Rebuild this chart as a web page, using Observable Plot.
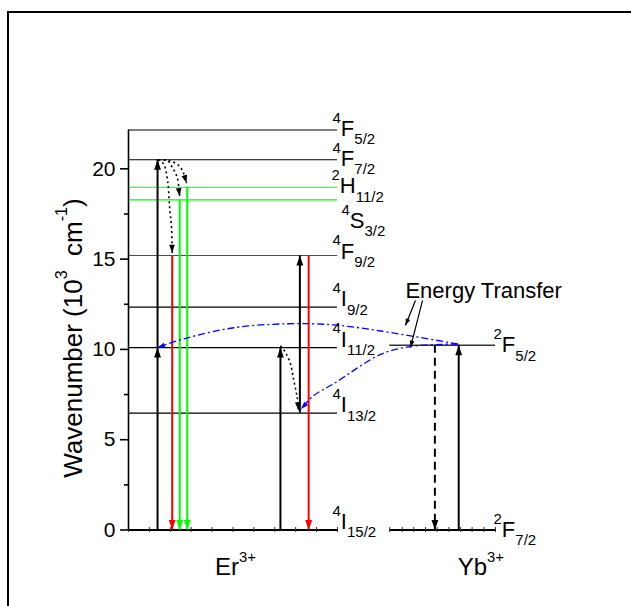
<!DOCTYPE html>
<html><head><meta charset="utf-8">
<script src="https://cdn.jsdelivr.net/npm/d3@7"></script>
<script src="https://cdn.jsdelivr.net/npm/@observablehq/plot@0.6"></script>
<style>
html,body{margin:0;padding:0;background:#fff;overflow:hidden;}
#wrap{position:relative;width:631px;height:606px;}
#frame{position:absolute;left:7px;top:11px;width:700px;height:700px;border-left:2px solid #000;border-top:2px solid #000;pointer-events:none;}
svg{display:block;}
</style></head><body>
<div id="wrap"><div id="chart"></div><div id="frame"></div></div>
<script>
// ---------------- data ----------------
// Er3+ energy levels (10^3 cm^-1)
const erTerms  = ["4F5/2","4F7/2","2H11/2","4S3/2","4F9/2","4I9/2","4I11/2","4I13/2","4I15/2"];
const erEnergy = [22.15, 20.5, 18.98, 18.28, 15.2, 12.34, 10.1, 6.47, 0];
// Yb3+ energy levels (10^3 cm^-1)
const ybTerms  = ["2F5/2","2F7/2"];
const ybEnergy = [10.23, 0];
// horizontal extents of the two ladders (arbitrary x units)
const erSpan = [0, 10];
const ybSpan = [12.5, 17.56];
// ions
const ions  = ["Er3+", "Yb3+"];
const ionX  = [5.12, 16.86];
// vertical transitions (absorption / emission / relaxation)
const transX    = [1.39, 1.39, 7.27, 8.2, 15.8, 14.66, 2.09, 2.45, 2.81, 8.62];
const transFrom = [0, 10.1, 0, 6.47, 0, 10.23, 15.2, 18.28, 18.98, 15.2];
const transTo   = [10.1, 20.5, 10.1, 15.2, 10.23, 0, 0, 0, 0, 0];
const transKind = ["pump","pump","pump","pump","pump","relax","red","green","green","red"];
// non-radiative relaxations (dotted curves)
const nrTo4F9  = [[1.41,20.5],[1.67,20.29],[1.87,19.35],[1.96,17.97],[2.06,16.69],[2.09,15.34]];
const nrTo4S3  = [[1.44,20.5],[1.85,20.46],[2.09,20.09],[2.33,19.53],[2.45,18.48]];
const nrTo2H11 = [[1.44,20.5],[1.93,20.46],[2.41,20.18],[2.65,19.72],[2.78,19.2]];
const nrTo4I13 = [[7.27,10.2],[7.51,9.84],[7.75,9.2],[7.91,8.28],[8.07,7.35],[8.14,6.62]];
// energy transfer Yb -> Er (dash-dot curves)
const etTo4I11 = [[15.75,10.3],[12.06,11.02],[9.81,11.36],[7.59,11.42],[5.04,11.2],[2.65,10.59],[1.39,10.1]];
const etTo4I13 = [[15.75,10.3],[13.49,10.16],[12.06,9.72],[9.82,8.1],[8.87,7.45],[8.25,6.7]];
// annotation
const noteText = ["Energy Transfer"];
const noteX = [13.25], noteY = [12.87];
const pointerX1 = [13.73, 14.07], pointerY1 = [12.71, 12.71];
const pointerX2 = [13.25, 13.49], pointerY2 = [11.32, 10.1];
// axis ticks
const yMajor = [0, 5, 10, 15, 20];
const yMinor = [2.5, 7.5, 12.5, 17.5];
const erBaseTicks = [0,1,2,3,4,5,6,7,8,9,10];
const ybBaseTicks = [12.5,13.1,13.65,14.21,14.77,15.33,15.89,16.44,17.0,17.56];
const yLabel = "Wavenumber (10|^3|  cm|^-1|)";

// ---------------- styles ----------------
const W = 631, H = 606;
const M = {left: 128, right: 136, top: 129.5, bottom: 76.5};
const xMax = 17.56, yMax = 22.15;
const kx = (W - M.left - M.right) / xMax;
const ky = (H - M.top - M.bottom) / yMax;
const FONT = "'Liberation Sans', Arial, Helvetica, sans-serif";
const kindColor = {pump: "#000000", relax: "#000000", red: "#ff0000", green: "#00ff00"};
const levelColor = t => t === "4F9/2" ? "#ff0000" : (t === "2H11/2" || t === "4S3/2") ? "#00ff00" : "#000000";
const labelOffset = {
  "4F5/2": [-5, 6], "4F7/2": [-5, 6], "2H11/2": [-6, 6], "4S3/2": [4, 28], "4F9/2": [-5, 3],
  "4I9/2": [-5, -1], "4I11/2": [-5, -1], "4I13/2": [-5, -1], "4I15/2": [-5, -1],
  "2F5/2": [-2, 7], "2F7/2": [-2, 7]
};
const headAngle = (x0, y0, x1, y1) =>
  Math.atan2(-(x1 - x0) * kx, -(y1 - y0) * ky) * 180 / Math.PI;
const arrowHead = {
  draw(context, size) {
    const r = Math.sqrt(size / Math.PI);
    const L = 2.5 * r, w = 0.85 * r;
    context.moveTo(0, 0);
    context.lineTo(-w, -L);
    context.lineTo(w, -L);
    context.closePath();
  }
};
const fmtTerm = t => { const m = t.match(/^(\d)([A-Z])(.+)$/); return `^${m[1]}|${m[2]}|_${m[3]}`; };
const fmtIon = s => { const m = s.match(/^([A-Za-z]+)(\d\+)$/); return `${m[1]}|^${m[2]}`; };

// heads
const idx = transX.map((_, i) => i);
const transHeads = idx.map(i => ({x: transX[i], y: transTo[i], c: kindColor[transKind[i]],
  a: headAngle(transX[i], transFrom[i], transX[i], transTo[i])}));
const curveHead = (pts, c) => { const n = pts.length, p = pts[n - 2], q = pts[n - 1];
  return {x: q[0], y: q[1], c, a: headAngle(p[0], p[1], q[0], q[1])}; };
const dottedHeads = [nrTo4F9, nrTo4S3, nrTo2H11, nrTo4I13].map(p => curveHead(p, "#000000"));
const blueHeads = [etTo4I11, etTo4I13].map(p => curveHead(p, "#0000ff"));
const pointerHeads = pointerX1.map((_, i) => ({x: pointerX2[i], y: pointerY2[i], c: "#000000",
  a: headAngle(pointerX1[i], pointerY1[i], pointerX2[i], pointerY2[i])}));

const levelLabels = [
  ...erTerms.map((t, i) => ({term: t, x: erSpan[1], y: erEnergy[i]})),
  ...ybTerms.map((t, i) => ({term: t, x: ybSpan[1], y: ybEnergy[i]}))
];
const erIdx = erTerms.map((_, i) => i).filter(i => erEnergy[i] > 0);

const dotted = {x: d => d[0], y: d => d[1], curve: "catmull-rom", stroke: "#000", strokeWidth: 1.6,
  strokeDasharray: "2,3", strokeLinecap: "butt"};
const dashdot = {x: d => d[0], y: d => d[1], curve: "catmull-rom", stroke: "#0000ff", strokeWidth: 1.3,
  strokeDasharray: "7,3,2,3", strokeLinecap: "butt"};

const svg = Plot.plot({
  width: W, height: H,
  marginLeft: M.left, marginRight: M.right, marginTop: M.top, marginBottom: M.bottom,
  x: {domain: [0, xMax], axis: null},
  y: {domain: [0, yMax], axis: null},
  color: {type: "identity"},
  style: {fontFamily: FONT, fontSize: "20px", background: "transparent", color: "#000", overflow: "visible"},
  marks: [
    // Er levels
    Plot.ruleY(erIdx, {y: i => erEnergy[i], x1: erSpan[0], x2: erSpan[1], stroke: i => levelColor(erTerms[i]), strokeWidth: 1.1}),
    Plot.ruleY([0], {x1: erSpan[0], x2: erSpan[1], stroke: "#000", strokeWidth: 2}),
    // Yb levels
    Plot.ruleY(ybEnergy.filter(e => e > 0), {x1: ybSpan[0], x2: ybSpan[1], stroke: "#333", strokeWidth: 1.4}),
    Plot.ruleY([0], {x1: ybSpan[0], x2: ybSpan[1], stroke: "#000", strokeWidth: 2}),
    // small ticks on the baselines
    Plot.ruleX(erBaseTicks, {x: d => d, y1: 0, y2: 0, insetTop: -2.5, insetBottom: -2.5, stroke: "#333", strokeWidth: 1}),
    Plot.ruleX(ybBaseTicks, {x: d => d, y1: 0, y2: 0, insetTop: -2.5, insetBottom: -2.5, stroke: "#333", strokeWidth: 1}),
    // y axis
    Plot.ruleX([0], {y1: 0, y2: yMax, stroke: "#000", strokeWidth: 1.6}),
    Plot.axisY(yMajor, {tickSize: 8, tickPadding: 5, fontSize: 21, strokeWidth: 1.6, label: null}),
    Plot.axisY(yMinor, {tickSize: 4, text: null, strokeWidth: 1.6, label: null}),
    // vertical transitions
    Plot.ruleX(idx.filter(i => transKind[i] !== "relax"), {x: i => transX[i], y1: i => transFrom[i], y2: i => transTo[i],
      stroke: i => kindColor[transKind[i]], strokeWidth: 2}),
    Plot.ruleX(idx.filter(i => transKind[i] === "relax"), {x: i => transX[i], y1: i => transFrom[i], y2: i => transTo[i],
      stroke: "#000", strokeWidth: 2, strokeDasharray: "8,5"}),
    // curves
    Plot.line(nrTo4F9, dotted), Plot.line(nrTo4S3, dotted), Plot.line(nrTo2H11, dotted), Plot.line(nrTo4I13, dotted),
    Plot.line(etTo4I11, dashdot), Plot.line(etTo4I13, dashdot),
    // pointers
    Plot.link(pointerX1, {x1: pointerX1, y1: pointerY1, x2: pointerX2, y2: pointerY2, stroke: "#000", strokeWidth: 1.2}),
    // arrow heads
    Plot.dot(transHeads, {x: "x", y: "y", r: 4, symbol: arrowHead, rotate: "a", fill: "c", stroke: "none"}),
    Plot.dot(dottedHeads, {x: "x", y: "y", r: 3.3, symbol: arrowHead, rotate: "a", fill: "c", stroke: "none"}),
    Plot.dot(blueHeads, {x: "x", y: "y", r: 3, symbol: arrowHead, rotate: "a", fill: "c", stroke: "none"}),
    Plot.dot(pointerHeads, {x: "x", y: "y", r: 2.8, symbol: arrowHead, rotate: "a", fill: "c", stroke: "none"}),
    // level labels
    levelLabels.map(d => Plot.text([d], {x: "x", y: "y", text: e => fmtTerm(e.term), textAnchor: "start", lineAnchor: "bottom",
      fontSize: 22, dx: labelOffset[d.term][0], dy: labelOffset[d.term][1]})),
    // ion labels
    Plot.text(ions, {x: (d, i) => ionX[i], y: 0, text: d => fmtIon(d), textAnchor: "middle", lineAnchor: "bottom", fontSize: 24, dy: 45}),
    // annotation
    Plot.text(noteText, {x: (d, i) => noteX[i], y: (d, i) => noteY[i], textAnchor: "start", lineAnchor: "bottom", fontSize: 22}),
    // y label
    Plot.text([yLabel], {frameAnchor: "left", dx: -47, dy: 8, rotate: -90, textAnchor: "middle", lineAnchor: "bottom", fontSize: 26})
  ]
});
document.getElementById("chart").append(svg);

// rich text: ^ superscript, _ subscript segments separated by |
function richText(root) {
  const NS = "http://www.w3.org/2000/svg";
  for (const t of root.querySelectorAll("text")) {
    const s = t.textContent;
    if (!s.includes("|")) continue;
    const fs = parseFloat(getComputedStyle(t).fontSize) || 20;
    const isLevel = s[0] === "^";
    const supK = isLevel ? 0.6 : 0.55;
    const small = isLevel ? 0.68 : 0.62;
    t.textContent = "";
    let shift = 0;
    for (const seg of s.split("|")) {
      if (!seg) continue;
      let kind = "n", str = seg;
      if (seg[0] === "^") { kind = "sup"; str = seg.slice(1); }
      else if (seg[0] === "_") { kind = "sub"; str = seg.slice(1); }
      const target = kind === "sup" ? -supK * fs : kind === "sub" ? 0.38 * fs : 0;
      const ts = document.createElementNS(NS, "tspan");
      ts.setAttribute("dy", (target - shift).toFixed(2));
      shift = target;
      if (kind !== "n") ts.setAttribute("font-size", (small * fs).toFixed(1));
      ts.style.whiteSpace = "pre";
      ts.textContent = str;
      t.appendChild(ts);
    }
  }
}
richText(svg);
</script></body></html>
